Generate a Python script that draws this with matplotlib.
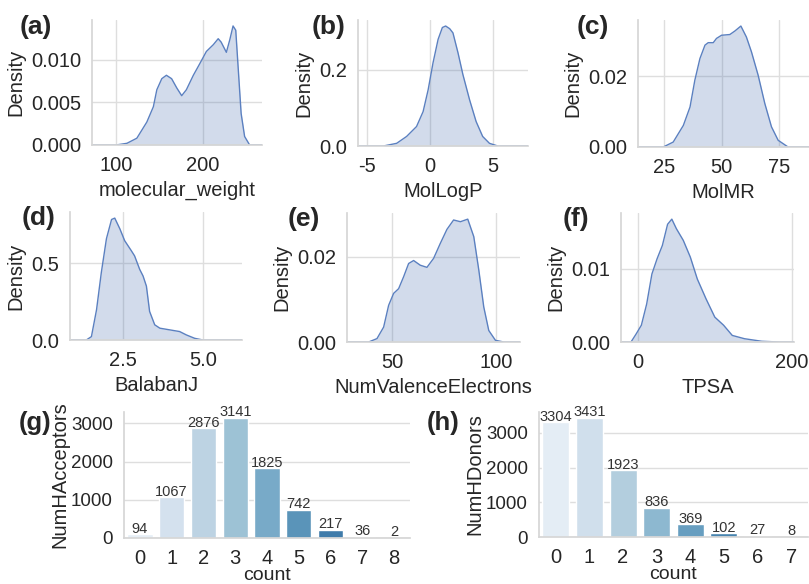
import matplotlib
matplotlib.use("Agg")
import matplotlib.pyplot as plt
import seaborn as sns

# KDE curves (x, density)
mw_x = [72, 82, 100, 112.6, 124, 135.5, 143, 147, 152.7, 158, 164, 170, 175.6, 181, 189,
        196.6, 204, 212, 217.6, 221, 227, 231, 234.7, 237.8, 240, 244, 248, 253.8, 268]
mw_y = [0, 0, 0, 0.0002, 0.0008, 0.0027, 0.0045, 0.0065, 0.0078, 0.0082, 0.0078, 0.0067,
        0.0058, 0.0065, 0.0082, 0.0096, 0.011, 0.0118, 0.0125, 0.0121, 0.0109, 0.0124,
        0.014, 0.0135, 0.010, 0.0037, 0.001, 0, 0]

logp_x = [-5.7, -3.68, -2.63, -1.84, -1.05, -0.53, -0.13, 0.26, 0.66, 1.0, 1.26, 1.58, 1.84,
          2.24, 2.63, 3.16, 3.68, 4.2, 4.74, 5.4, 7.8]
logp_y = [0, 0, 0.007, 0.025, 0.051, 0.09, 0.147, 0.218, 0.279, 0.31, 0.314, 0.307, 0.296,
          0.244, 0.187, 0.121, 0.064, 0.025, 0.007, 0, 0]

mr_x = [13.7, 24.7, 29.0, 33.4, 36.3, 38.4, 40.6, 42.8, 44.2, 46.4, 47.8, 50, 53.6, 55.8,
        58.4, 60.8, 63, 65.9, 68.8, 71.7, 74.6, 78.9, 88]
mr_y = [0, 0, 0.0014, 0.0061, 0.0113, 0.0189, 0.025, 0.0288, 0.0295, 0.0295, 0.0307, 0.0316,
        0.0318, 0.0328, 0.0342, 0.0311, 0.0269, 0.0203, 0.0123, 0.0057, 0.0019, 0, 0]

bj_x = [0.84, 1.35, 1.51, 1.67, 1.82, 1.98, 2.14, 2.24, 2.4, 2.55, 2.76, 2.86, 3.02, 3.125,
        3.23, 3.33, 3.49, 3.65, 3.96, 4.27, 4.48, 4.74, 5.0, 6.22]
bj_y = [0, 0, 0.022, 0.197, 0.44, 0.66, 0.785, 0.794, 0.724, 0.647, 0.581, 0.548, 0.46,
        0.417, 0.351, 0.186, 0.099, 0.077, 0.066, 0.055, 0.033, 0.011, 0, 0]

nve_x = [28.4, 38.8, 42.8, 46, 48.4, 50.8, 53.2, 55.6, 58, 60.4, 63.6, 66.8, 70, 73.2, 76.4,
         79.6, 82.9, 86.4, 89.3, 91.7, 94.1, 96.5, 99.7, 103.7, 111.5]
nve_y = [0, 0, 0.0008, 0.0035, 0.0086, 0.0114, 0.0125, 0.0153, 0.0184, 0.0191, 0.018, 0.0175,
         0.0196, 0.0231, 0.0264, 0.0286, 0.0282, 0.0288, 0.0247, 0.0169, 0.0082, 0.0027,
         0.0004, 0, 0]

tpsa_x = [-22, -9, -2.3, 4.5, 11.4, 18.2, 25, 31.8, 38.6, 44.1, 50, 59, 68.2, 77.3, 88.6,
          100, 111.4, 122.7, 138.6, 161, 184, 203]
tpsa_y = [0, 0, 0.0011, 0.0023, 0.0052, 0.0093, 0.0114, 0.0132, 0.0161, 0.0168, 0.0155,
          0.0139, 0.0116, 0.0086, 0.0059, 0.0034, 0.0023, 0.0009, 0.00045, 0.0001, 0, 0]

# count data
acc_cats = ["0", "1", "2", "3", "4", "5", "6", "7", "8"]
acc_counts = [94, 1067, 2876, 3141, 1825, 742, 217, 36, 2]
don_cats = ["0", "1", "2", "3", "4", "5", "6", "7"]
don_counts = [3304, 3431, 1923, 836, 369, 102, 27, 8]

sns.set_theme(style="whitegrid", rc={"grid.color": "#dedede", "axes.edgecolor": "#d6d6d6"})
plt.rcParams['font.family'] = ['Liberation Sans', 'DejaVu Sans']
plt.rcParams['font.size'] = 14.5

W, H = 809, 584
fig = plt.figure(figsize=(W / 100, H / 100), dpi=100)


def add_ax(x0, x1, y0, y1):
    return fig.add_axes([x0 / W, 1 - y1 / H, (x1 - x0) / W, (y1 - y0) / H])


kde_panels = [
    ((92, 262, 20, 145), mw_x, mw_y, "molecular_weight", (72.4, 268), [100, 200], [0, 0.005, 0.010], "{:.3f}", "(a)", (20, 27)),
    ((358, 528, 20, 146), logp_x, logp_y, "MolLogP", (-5.7, 7.8), [-5, 0, 5], [0, 0.2], "{:.1f}", "(b)", (312, 27)),
    ((638, 809, 20, 147), mr_x, mr_y, "MolMR", (13.7, 88), [25, 50, 75], [0, 0.02], "{:.2f}", "(c)", (577, 27)),
    ((70, 242, 212, 340), bj_x, bj_y, "BalabanJ", (0.84, 6.22), [2.5, 5.0], [0, 0.5], "{:.1f}", "(d)", (22, 218)),
    ((347, 520, 213, 342), nve_x, nve_y, "NumValenceElectrons", (28.4, 111.5), [50, 100], [0, 0.02], "{:.2f}", "(e)", (288, 219)),
    ((621, 794, 213, 342), tpsa_x, tpsa_y, "TPSA", (-22, 203), [0, 200], [0, 0.01], "{:.2f}", "(f)", (563, 219)),
]

for rect, xs, ys, name, xl, xt, yt, fmt, tag, tpos in kde_panels:
    ax = add_ax(*rect)
    ax.fill_between(xs, ys, color="#4c72b0", alpha=0.25, lw=0)
    ax.plot(xs, ys, color="#5b80c0", lw=1)
    ax.set_xlim(*xl)
    ax.set_ylim(0, max(ys) * 1.05)
    ax.set_xticks(xt)
    ax.set_xticklabels([str(v) for v in xt])
    ax.set_yticks(yt)
    ax.set_yticklabels([fmt.format(v) for v in yt])
    ax.set_xlabel(name, fontsize=14.5)
    ax.set_ylabel("Density", fontsize=14.5)
    ax.tick_params(labelsize=14.5, pad=2)
    sns.despine(ax=ax)
    fig.text(tpos[0] / W, 1 - tpos[1] / H, tag, fontsize=19, fontweight="bold", ha="left", va="center")

bar_panels = [
    ((124, 410, 412, 538), acc_cats, acc_counts, "NumHAcceptors", "(g)", (19, 423)),
    ((539, 808, 412, 537), don_cats, don_counts, "NumHDonors", "(h)", (427, 423)),
]

for rect, cats, counts, name, tag, tpos in bar_panels:
    ax = add_ax(*rect)
    sns.barplot(x=cats, y=counts, hue=cats, palette="Blues", legend=False, ax=ax)
    for c in ax.containers:
        ax.bar_label(c, fontsize=10.5, padding=-1, color=".2")
    ax.set_xlabel("count", fontsize=14, labelpad=-1)
    ax.set_ylabel(name, fontsize=14.5, labelpad=1)
    ax.set_yticks([0, 1000, 2000, 3000])
    ax.tick_params(axis="x", labelsize=14.5, pad=2)
    ax.tick_params(axis="y", labelsize=13.5, pad=2)
    sns.despine(ax=ax)
    fig.text(tpos[0] / W, 1 - tpos[1] / H, tag, fontsize=18.5, fontweight="bold", ha="left", va="center")

fig.savefig("out.png", dpi=100)
